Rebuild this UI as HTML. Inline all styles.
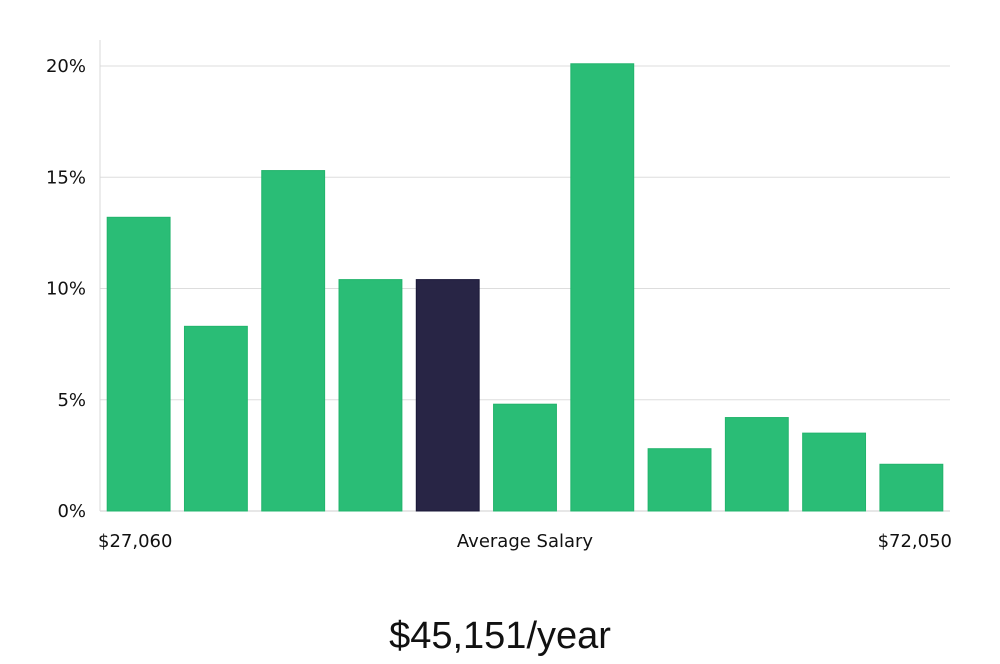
<!DOCTYPE html>
<html><head><meta charset="utf-8">
<style>
body{margin:0;width:1000px;height:660px;background:#fff;overflow:hidden;font-family:"DejaVu Sans","Liberation Sans",sans-serif;}
svg text{font-family:"DejaVu Sans","Liberation Sans",sans-serif;fill:#111;}
</style></head>
<body>
<svg id="chart" width="1000" height="660" viewBox="0 0 1000 660" xmlns="http://www.w3.org/2000/svg">
<g id="grid"></g>
<g id="bars"></g>
<g id="ylabels"></g>
<line x1="100" y1="40" x2="100" y2="511" stroke="#d8d8d8" stroke-width="1"/>
<text x="98" y="547" font-size="18">$27,060</text>
<text x="525" y="547" font-size="18" text-anchor="middle">Average Salary</text>
<text x="952" y="547" font-size="18" text-anchor="end">$72,050</text>
<text x="500" y="648" font-size="38" text-anchor="middle" style="font-family:'Liberation Sans',sans-serif;font-weight:300;fill:#111">$45,151/year</text>
</svg>
<script>
const values=[13.2,8.3,15.3,10.4,10.4,4.8,20.1,2.8,4.2,3.5,2.1];
const highlight=[false,false,false,false,true,false,false,false,false,false,false];
const yTicks=[0,5,10,15,20];
const yTickLabels=["0%","5%","10%","15%","20%"];
const NS="http://www.w3.org/2000/svg";
const x0=100,x1=950,yBase=511,yTop=66,yMax=20;
const y=v=>yBase-(v/yMax)*(yBase-yTop);
const slot=(x1-x0)/values.length;
const g=document.getElementById('grid'),b=document.getElementById('bars'),yl=document.getElementById('ylabels');
yTicks.forEach((t,i)=>{
  const l=document.createElementNS(NS,'line');
  
  
  l.setAttribute('x1',x0);l.setAttribute('x2',x1);l.setAttribute('y1',y(t));l.setAttribute('y2',y(t));
  l.setAttribute('stroke',i===0?'#cfcfcf':'#dddddd');l.setAttribute('stroke-width','1');
  g.appendChild(l);
  const tx=document.createElementNS(NS,'text');
  
  
  tx.setAttribute('x',86);tx.setAttribute('y',y(t)+6);tx.setAttribute('font-size','18');tx.setAttribute('text-anchor','end');
  tx.textContent=yTickLabels[i];
  yl.appendChild(tx);
});
values.forEach((v,i)=>{
  const r=document.createElementNS(NS,'rect');
  
  
  const bx=x0+i*slot+7.2;
  r.setAttribute('x',bx);r.setAttribute('width',slot-14.4);
  r.setAttribute('y',y(v));r.setAttribute('height',yBase-y(v));
  r.setAttribute('fill',highlight[i]?'#282545':'#2abd76');
  r.setAttribute('stroke',highlight[i]?'#1a1838':'#22b46c');r.setAttribute('stroke-width','1');
  b.appendChild(r);
});
</script>
</body></html>
